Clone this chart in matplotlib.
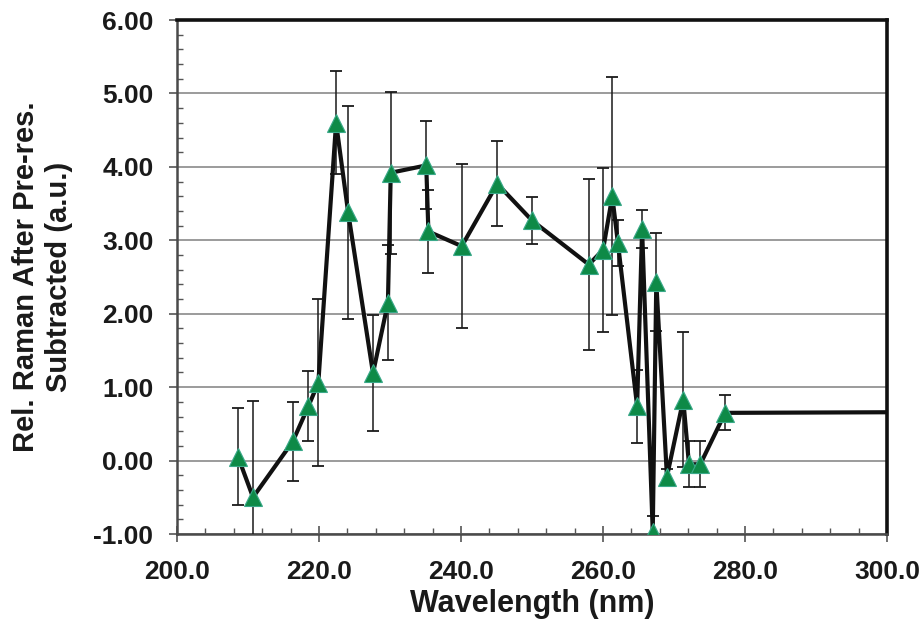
import numpy as np
import matplotlib
matplotlib.use("Agg")
import matplotlib.pyplot as plt
from matplotlib.ticker import MultipleLocator, FormatStrFormatter

# wavelength (nm), relative Raman signal and error bars
wavelength = [208.6, 210.7, 216.3, 218.5, 219.9, 222.4, 224.1, 227.6, 229.7, 230.1,
              235.1, 235.4, 240.1, 245.1, 250.0, 258.0, 260.0, 261.3, 262.1, 264.8,
              265.5, 267.0, 267.5, 269.0, 271.3, 272.1, 273.7, 277.2, 305.0]
raman = [0.05, -0.50, 0.26, 0.74, 1.06, 4.60, 3.38, 1.19, 2.15, 3.92,
         4.02, 3.12, 2.92, 3.77, 3.27, 2.67, 2.87, 3.60, 2.96, 0.74,
         3.15, -0.97, 2.43, -0.22, 0.83, -0.05, -0.05, 0.65, 0.66]
raman_err = [0.66, 1.31, 0.54, 0.48, 1.14, 0.70, 1.45, 0.79, 0.78, 1.10,
             0.60, 0.56, 1.12, 0.58, 0.32, 1.16, 1.12, 1.62, 0.31, 0.50,
             0.26, 0.22, 0.67, 0.10, 0.92, 0.31, 0.31, 0.24, 0.0]

plt.rcParams['font.family'] = ['Liberation Sans', 'DejaVu Sans']
plt.rcParams['font.weight'] = 'bold'

fig = plt.figure(figsize=(9.24, 6.2), dpi=100)
ax = fig.add_axes([0.1916, 0.1387, 0.7684, 0.829])

x = np.array(wavelength)
y = np.array(raman)
err = np.array(raman_err)

ax.errorbar(x, y, yerr=err, fmt='none', ecolor='#1a1a1a', elinewidth=1.1,
            capsize=4, capthick=1.3, zorder=3)
ax.plot(x, y, color='#111111', lw=3.0, zorder=4, solid_joinstyle='miter')
ax.plot(x, y, ls='none', marker='^', ms=13, mfc='#0e8a47', mec='#3aa98a',
        mew=0.8, zorder=5)

ax.set_xlim(200, 300)
ax.set_ylim(-1, 6)
ax.yaxis.grid(True, color='#8a8a8a', lw=1.2)
ax.set_axisbelow(True)

ax.xaxis.set_major_locator(MultipleLocator(20))
ax.xaxis.set_minor_locator(MultipleLocator(4))
ax.yaxis.set_major_locator(MultipleLocator(1))
ax.yaxis.set_minor_locator(MultipleLocator(0.2))
ax.xaxis.set_major_formatter(FormatStrFormatter('%.1f'))
ax.yaxis.set_major_formatter(FormatStrFormatter('%.2f'))

ax.tick_params(axis='y', which='major', direction='out', length=6, width=1.2,
               color='#555555', labelsize=19, pad=11)
ax.tick_params(axis='x', which='major', direction='inout', length=12, width=1.2,
               color='#555555', labelsize=19, pad=13)
ax.tick_params(which='minor', direction='in', length=4, width=1.0, color='#555555')
for lab in ax.get_xticklabels() + ax.get_yticklabels():
    lab.set_fontweight('bold')
    lab.set_color('#1a1a1a')

for side in ['left', 'bottom']:
    ax.spines[side].set_color('#4a4a4a')
    ax.spines[side].set_linewidth(1.8)
for side in ['top', 'right']:
    ax.spines[side].set_color('#111111')
    ax.spines[side].set_linewidth(2.6)

ax.set_xlabel('Wavelength (nm)', fontsize=22, fontweight='bold', labelpad=3,
              color='#1a1a1a')
ax.set_ylabel('Rel. Raman After Pre-res.\nSubtracted (a.u.)', fontsize=21,
              fontweight='bold', labelpad=15, color='#1a1a1a', linespacing=1.2)

fig.savefig('out.png', dpi=100, facecolor='white')
